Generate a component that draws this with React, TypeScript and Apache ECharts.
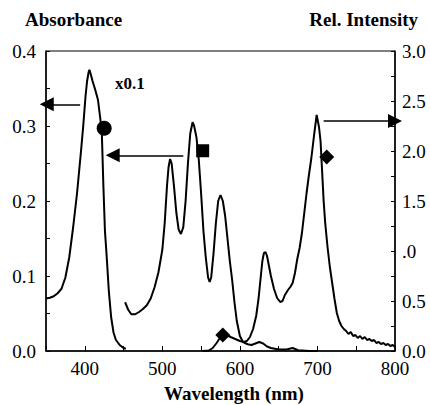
import React, { useEffect, useRef } from "react";
import * as echarts from "echarts";

// Soret band absorbance (left axis), drawn x0.1
const soretNm = [350, 355, 360, 365, 370, 375, 380, 385, 390, 395, 398, 401, 403, 405, 406, 408, 410, 413, 417, 420, 422, 424, 426, 428, 431, 434, 437, 440, 445, 450, 453];
const soretAbs = [0.070, 0.071, 0.073, 0.077, 0.083, 0.098, 0.125, 0.165, 0.21, 0.265, 0.30, 0.34, 0.36, 0.372, 0.375, 0.368, 0.36, 0.35, 0.335, 0.31, 0.29, 0.22, 0.16, 0.13, 0.08, 0.045, 0.025, 0.015, 0.008, 0.004, 0.003];

// Q-band absorbance (left axis)
const qNm = [452, 456, 460, 465, 470, 475, 480, 485, 490, 495, 500, 503, 506, 508, 510, 512, 515, 518, 521, 524, 527, 530, 533, 536, 539, 541, 544, 547, 550, 553, 556, 559, 561, 563, 566, 569, 572, 575, 578, 581, 584, 587, 590, 593, 596, 600, 604, 610, 615, 620, 625, 630, 635, 640, 650, 660, 668, 675, 690, 700];
const qAbs = [0.065, 0.055, 0.049, 0.049, 0.052, 0.056, 0.061, 0.070, 0.085, 0.105, 0.135, 0.17, 0.22, 0.245, 0.256, 0.25, 0.22, 0.185, 0.162, 0.156, 0.165, 0.20, 0.25, 0.29, 0.305, 0.30, 0.285, 0.255, 0.21, 0.16, 0.125, 0.098, 0.092, 0.098, 0.13, 0.17, 0.20, 0.208, 0.20, 0.18, 0.15, 0.12, 0.095, 0.065, 0.04, 0.02, 0.012, 0.009, 0.008, 0.010, 0.012, 0.010, 0.006, 0.004, 0.002, 0.002, 0.004, 0.001, 0, 0];

// Emission (right axis)
const emNm = [552, 560, 565, 570, 575, 579, 583, 588, 594, 600, 605, 609, 613, 617, 621, 624, 627, 629, 631, 633, 635, 637, 640, 644, 648, 652, 655, 658, 662, 665, 668, 671, 674, 677, 680, 683, 686, 689, 692, 694, 696, 698, 699, 700, 702, 704, 706, 708, 710, 713, 716, 719, 722, 725, 728, 731, 734, 737, 740, 743, 746, 749, 752, 755, 758, 761, 764, 767, 770, 773, 776, 779, 782, 785, 788, 791, 794, 797, 800];
const emInt = [0, 0.005, 0.03, 0.08, 0.14, 0.17, 0.16, 0.14, 0.12, 0.10, 0.09, 0.10, 0.14, 0.22, 0.35, 0.52, 0.75, 0.90, 0.98, 0.99, 0.95, 0.87, 0.75, 0.62, 0.53, 0.49, 0.50, 0.56, 0.61, 0.64, 0.68, 0.78, 0.92, 1.03, 1.18, 1.38, 1.58, 1.76, 1.92, 2.05, 2.18, 2.30, 2.36, 2.32, 2.24, 2.10, 1.80, 1.50, 1.28, 1.04, 0.84, 0.68, 0.52, 0.38, 0.30, 0.25, 0.22, 0.20, 0.17, 0.19, 0.15, 0.16, 0.13, 0.15, 0.12, 0.14, 0.11, 0.12, 0.10, 0.11, 0.08, 0.09, 0.07, 0.08, 0.06, 0.07, 0.05, 0.06, 0.04];

// Markers
const circleMark = [425, 0.297];
const squareMark = [552, 0.267];
const diamondMarks = [[578, 0.16], [712, 1.94]];

// Arrows [fromX, toX, y]
const arrowSoret = [394, 351, 0.329];
const arrowQ = [527, 436, 0.261];
const arrowEm = [708, 800, 2.30];

const xTicks = { min: 350, max: 800, interval: 50 };
const leftTicks = { min: 0, max: 0.4, interval: 0.05 };
const rightTicks = { min: 0, max: 3, interval: 0.25 };

const FONT = "Liberation Serif";

function zip(xs: number[], ys: number[]) {
  return xs.map((x, i) => [x, ys[i]]);
}

export default function App() {
  const ref = useRef<HTMLDivElement>(null);
  useEffect(() => {
    if (!ref.current) return;
    const chart = echarts.init(ref.current, undefined, { renderer: "svg" });
    const lineStyle = { color: "#000", width: 2 };
    const arrowLine = (a: number[]) => ({
      silent: true,
      symbol: ["none", "triangle"],
      symbolSize: 14,
      label: { show: false },
      lineStyle: { color: "#000", width: 1.5, type: "solid" },
      data: [[{ coord: [a[0], a[2]] }, { coord: [a[1], a[2]] }]],
    });
    const tickLabel = { color: "#000", fontFamily: FONT, fontSize: 19 };
    chart.setOption({
      animation: false,
      backgroundColor: "#fff",
      textStyle: { fontFamily: FONT },
      grid: { left: 46, right: 35, top: 51, bottom: 54, show: true, borderColor: "#000", borderWidth: 1 },
      xAxis: {
        type: "value",
        ...xTicks,
        axisLine: { show: true, lineStyle: { color: "#000", width: 1.5 } },
        axisTick: { show: true, inside: true, length: 5, lineStyle: { color: "#000" } },
        splitLine: { show: false },
        axisLabel: {
          ...tickLabel,
          margin: 8,
          formatter: (v: number) => (v % 100 === 0 ? String(v) : ""),
        },
      },
      yAxis: [
        {
          type: "value",
          ...leftTicks,
          position: "left",
          axisLine: { show: true, lineStyle: { color: "#000", width: 1.5 } },
          axisTick: { show: true, inside: true, length: 4, lineStyle: { color: "#000" } },
          splitLine: { show: false },
          axisLabel: {
            ...tickLabel,
            margin: 10,
            formatter: (v: number) =>
              Math.abs(v * 10 - Math.round(v * 10)) < 1e-6 ? v.toFixed(1) : "",
          },
        },
        {
          type: "value",
          ...rightTicks,
          position: "right",
          axisLine: { show: true, lineStyle: { color: "#000", width: 1.5 } },
          axisTick: { show: true, inside: true, length: 4, lineStyle: { color: "#000" } },
          splitLine: { show: false },
          axisLabel: {
            ...tickLabel,
            margin: 7,
            formatter: (v: number) => {
              if (Math.abs(v * 2 - Math.round(v * 2)) > 1e-6) return "";
              const s = v.toFixed(1);
              return s === "1.0" ? ".0" : s;
            },
          },
        },
      ],
      graphic: [
        { type: "text", left: 25, top: 10, style: { text: "Absorbance", fontFamily: FONT, fontWeight: "bold", fontSize: 19, fill: "#000" } },
        { type: "text", right: 12, top: 10, style: { text: "Rel. Intensity", fontFamily: FONT, fontWeight: "bold", fontSize: 19, fill: "#000" } },
        { type: "text", left: 115, top: 75, style: { text: "x0.1", fontFamily: FONT, fontWeight: "bold", fontSize: 17, fill: "#000" } },
        { type: "text", x: 234, y: 393, style: { text: "Wavelength (nm)", fontFamily: FONT, fontWeight: "bold", fontSize: 19, fill: "#000", align: "center", verticalAlign: "middle" } },
      ],
      series: [
        {
          type: "line", yAxisIndex: 0, data: zip(soretNm, soretAbs), showSymbol: false, lineStyle,
          markLine: arrowLine(arrowSoret),
        },
        {
          type: "line", yAxisIndex: 0, data: zip(qNm, qAbs), showSymbol: false, lineStyle,
          markLine: arrowLine(arrowQ),
        },
        {
          type: "line", yAxisIndex: 1, data: zip(emNm, emInt), showSymbol: false, lineStyle,
          markLine: arrowLine(arrowEm),
        },
        { type: "scatter", yAxisIndex: 0, data: [circleMark], symbol: "circle", symbolSize: 15, itemStyle: { color: "#000", opacity: 1 } },
        { type: "scatter", yAxisIndex: 0, data: [squareMark], symbol: "rect", symbolSize: 13, itemStyle: { color: "#000", opacity: 1 } },
        { type: "scatter", yAxisIndex: 1, data: diamondMarks, symbol: "diamond", symbolSize: [15, 15], itemStyle: { color: "#000", opacity: 1 } },
      ],
    });
    return () => chart.dispose();
  }, []);
  return <div ref={ref} style={{ width: 430, height: 405, position: "absolute", left: 0, top: 0 }} />;
}
